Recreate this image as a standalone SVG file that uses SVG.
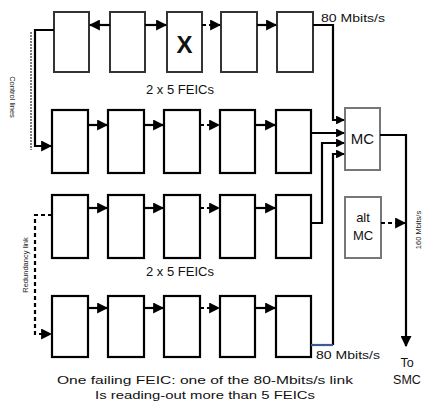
<svg xmlns="http://www.w3.org/2000/svg" width="432" height="420" viewBox="0 0 432 420">
<defs>
<marker id="ah" viewBox="0 0 10 10" refX="9" refY="5" markerWidth="5" markerHeight="5" orient="auto" markerUnits="strokeWidth"><path d="M0,0 L10,5 L0,10 z" fill="#000"/></marker>
<marker id="ahs" viewBox="0 0 10 10" refX="9" refY="5" markerWidth="4" markerHeight="4" orient="auto" markerUnits="strokeWidth"><path d="M0,0 L10,5 L0,10 z" fill="#000"/></marker>
</defs>
<style>
.fe{fill:#fff;stroke:#000;stroke-width:2.2}
.fe1{fill:#fff;stroke:#333;stroke-width:2}
.mc{fill:#fff;stroke:#777;stroke-width:2}
.ln{fill:none;stroke:#000;stroke-width:2.2}
.dl{fill:none;stroke:#000;stroke-width:2.2;stroke-dasharray:4,3}
.t{font-family:"Liberation Sans",Arial,sans-serif;fill:#111}
.sm{font-family:"Liberation Sans",Arial,sans-serif;font-size:7.5px;fill:#222}
</style>
<rect width="432" height="420" fill="#fff"/>
<g id="row1">
<rect class="fe1" x="54" y="12" width="35" height="60"/>
<rect class="fe1" x="110" y="12" width="35" height="60"/>
<rect class="fe1" x="167" y="12" width="35" height="60"/>
<rect class="fe1" x="221" y="12" width="36" height="60"/>
<rect class="fe1" x="277" y="12" width="36" height="60"/>
<text class="t" x="184.5" y="53" font-size="24" font-weight="bold" text-anchor="middle">X</text>
</g>
<g id="row2">
<rect class="fe" x="52" y="110" width="36" height="63"/>
<rect class="fe" x="108" y="110" width="36" height="63"/>
<rect class="fe" x="164" y="110" width="36" height="63"/>
<rect class="fe" x="220" y="110" width="35" height="63"/>
<rect class="fe" x="276" y="110" width="35" height="63"/>
</g>
<g id="row3">
<rect class="fe" x="52" y="195" width="36" height="63"/>
<rect class="fe" x="108" y="195" width="36" height="63"/>
<rect class="fe" x="164" y="195" width="36" height="63"/>
<rect class="fe" x="220" y="195" width="35" height="63"/>
<rect class="fe" x="276" y="195" width="35" height="63"/>
</g>
<g id="row4">
<rect class="fe" x="52" y="296" width="36" height="61"/>
<rect class="fe" x="108" y="296" width="36" height="61"/>
<rect class="fe" x="164" y="296" width="36" height="61"/>
<rect class="fe" x="220" y="296" width="35" height="61"/>
<rect class="fe" x="276" y="296" width="35" height="61"/>
</g>
<g id="mc">
<rect class="mc" x="345" y="108" width="35" height="62"/>
<text class="t" x="362.5" y="144" font-size="15" text-anchor="middle">MC</text>
</g>
<g id="altmc">
<rect class="mc" x="345" y="197" width="36" height="61"/>
<text class="t" x="363" y="222" font-size="13" text-anchor="middle">alt</text>
<text class="t" x="363" y="240" font-size="13" text-anchor="middle">MC</text>
</g>
<g id="connectors">
<line class="ln" x1="110" y1="25" x2="90" y2="25" marker-end="url(#ah)"/>
<line class="ln" x1="145" y1="25" x2="166" y2="25" marker-end="url(#ah)"/>
<line class="dl" x1="202" y1="25" x2="220" y2="25" marker-end="url(#ah)"/>
<line class="ln" x1="257" y1="25" x2="276" y2="25" marker-end="url(#ah)"/>
<line class="ln" x1="88" y1="125" x2="107" y2="125" marker-end="url(#ah)"/>
<line class="ln" x1="144" y1="125" x2="163" y2="125" marker-end="url(#ah)"/>
<line class="dl" x1="200" y1="125" x2="219" y2="125" marker-end="url(#ah)"/>
<line class="ln" x1="255" y1="125" x2="275" y2="125" marker-end="url(#ah)"/>
<line class="ln" x1="88" y1="208" x2="107" y2="208" marker-end="url(#ah)"/>
<line class="ln" x1="144" y1="208" x2="163" y2="208" marker-end="url(#ah)"/>
<line class="dl" x1="200" y1="208" x2="219" y2="208" marker-end="url(#ah)"/>
<line class="ln" x1="255" y1="208" x2="275" y2="208" marker-end="url(#ah)"/>
<line class="ln" x1="88" y1="308" x2="107" y2="308" marker-end="url(#ah)"/>
<line class="ln" x1="144" y1="308" x2="163" y2="308" marker-end="url(#ah)"/>
<line class="dl" x1="200" y1="308" x2="219" y2="308" marker-end="url(#ah)"/>
<line class="ln" x1="255" y1="308" x2="275" y2="308" marker-end="url(#ah)"/>
<polyline class="ln" points="54,30 35,30 35,146 51,146" marker-end="url(#ah)"/>
<line x1="31" y1="32" x2="31" y2="150" stroke="#000" stroke-width="1" stroke-dasharray="2,1"/>
<polyline class="dl" points="52,215 35,215 35,334 51,334" marker-end="url(#ah)"/>
<polyline class="ln" points="313,25 333,25 333,120 344,120" marker-end="url(#ahs)"/>
<polyline class="ln" points="311,133 344,133" marker-end="url(#ahs)"/>
<polyline class="ln" points="311,223 322,223 322,143 344,143" marker-end="url(#ahs)"/>
<polyline class="ln" points="333,345 333,154 344,154" marker-end="url(#ahs)"/>
<line x1="311" y1="345" x2="333" y2="345" stroke="#3a5a9a" stroke-width="2.2"/>
<polyline class="ln" points="380,135 406,135 406,346" marker-end="url(#ah)"/>
<line class="dl" x1="381" y1="223" x2="405" y2="223" marker-end="url(#ah)"/>
</g>
<g id="labels">
<text class="t" x="321" y="22" font-size="11.5" textLength="64" lengthAdjust="spacingAndGlyphs">80 Mbits/s</text>
<text class="t" x="316" y="359" font-size="11.5" textLength="64" lengthAdjust="spacingAndGlyphs">80 Mbits/s</text>
<text class="t" x="180" y="94" font-size="12.5" text-anchor="middle" textLength="68" lengthAdjust="spacingAndGlyphs">2 x 5 FEICs</text>
<text class="t" x="180" y="276" font-size="12.5" text-anchor="middle" textLength="68" lengthAdjust="spacingAndGlyphs">2 x 5 FEICs</text>
<text class="t" x="407" y="367" font-size="12.5" text-anchor="middle">To</text>
<text class="t" x="407" y="384" font-size="12.5" text-anchor="middle">SMC</text>
<text class="t" x="205" y="384" font-size="11" text-anchor="middle" textLength="296" lengthAdjust="spacingAndGlyphs">One failing FEIC: one of the 80-Mbits/s link</text>
<text class="t" x="205" y="399" font-size="11" text-anchor="middle" textLength="220" lengthAdjust="spacingAndGlyphs">Is reading-out more than 5 FEICs</text>
<text class="sm" transform="translate(421,230) rotate(-90)" text-anchor="middle">160 Mbits/s</text>
<text class="sm" transform="translate(10,97) rotate(90)" text-anchor="middle">Control lines</text>
<text class="sm" transform="translate(28,265) rotate(-90)" text-anchor="middle">Redundancy link</text>
</g>
</svg>
